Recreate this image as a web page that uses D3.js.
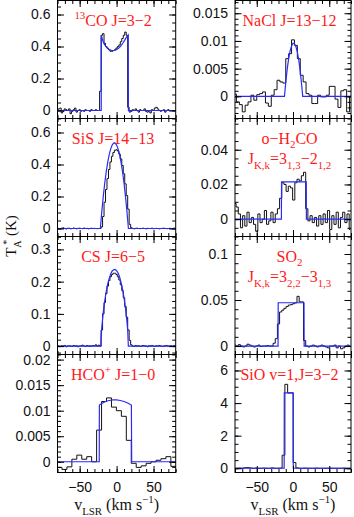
<!DOCTYPE html>
<html><head><meta charset="utf-8">
<script src="https://cdn.jsdelivr.net/npm/d3@7"></script>
<style>body{margin:0;background:#fff}svg{display:block}</style>
</head><body>
<script>
// ---------------- data ----------------
const velDomain = [-80, 80];
const xMajorTicks = [-50, 0, 50];
const xTickLabels = ["\u221250", "0", "50"];
const xMinorStep = 10;

// 13CO J=3-2
const co13Start = -80, co13Width = 2;
const co13Obs = [0.005,0.01,0.015,-0.015,-0.005,0.01,0.005,0.0,0.01,-0.02,
  -0.005,0.005,0.015,-0.01,0.0,0.005,-0.005,0.0,-0.005,0.005,
  0.0,0.0,-0.005,0.005,0.0,0.0,0.005,0.0,0.0,0.12,
  0.47,0.48,0.42,0.40,0.39,0.38,0.37,0.37,0.375,0.38,
  0.39,0.40,0.41,0.43,0.45,0.47,0.49,0.47,0.02,-0.01,
  -0.005,0.005,0.0,0.01,0.0,-0.01,0.005,0.0,0.0,0.01,
  -0.005,-0.01,0.0,-0.015,0.005,0.0,0.015,0.02,0.01,0.0,
  -0.005,0.0,0.005,-0.01,0.0,0.005,0.0,0.0,0.0,0.0,0.0];
const co13ModelV = [-80,-20.8,-20.6,-19,-17,-15,-13,-11,-9,-7,-5,-3,-1,1,3,5,7,9,11,13,15,15.8,16.0,80];
const co13ModelT = [0,0,0.47,0.44,0.418,0.403,0.392,0.384,0.379,0.376,0.375,0.376,0.379,0.384,0.391,0.40,0.412,0.425,0.44,0.455,0.468,0.472,0,0];
const co13YDomain = [-0.05, 0.6875];
const co13YTicks = [0, 0.2, 0.4, 0.6];
const co13YLabels = ["0", "0.2", "0.4", "0.6"];

// SiS J=14-13
const sisStart = -80, sisWidth = 2;
const sisObs = [0.003,0.0,-0.002,0.002,0.004,0.0,-0.003,0.001,0.002,-0.002,
  0.0,0.003,0.0,-0.002,0.001,0.002,0.0,-0.001,0.003,0.0,
  0.001,-0.002,0.0,0.002,0.0,0.001,0.0,-0.001,0.0,
  0.0,0.01,0.075,0.164,0.244,0.312,0.369,0.416,0.451,0.475,0.489,
  0.492,0.484,0.465,0.435,0.394,0.342,0.279,0.206,0.121,0.026,0.005,
  0.0,-0.002,0.001,0.002,0.0,-0.001,0.0,0.002,0.0,-0.002,
  0.001,0.0,0.0,0.002,-0.001,0.0,0.001,0.0,-0.002,0.0,
  0.001,0.002,0.0,-0.001,0.0,0.001,0.0,0.0,0.002,0.0];
const sisModelV = [-80,-22,-20,-18,-16,-14,-12,-10,-8,-6,-4,-3,-2,0,2,4,6,8,10,12,14,16,80];
const sisModelT = [0,0,0.107,0.202,0.285,0.356,0.415,0.462,0.498,0.522,0.534,0.535,0.534,0.522,0.498,0.462,0.415,0.356,0.285,0.202,0.107,0,0];
const sisYDomain = [-0.05, 0.6875];
const sisYTicks = [0, 0.2, 0.4, 0.6];
const sisYLabels = ["0", "0.2", "0.4", "0.6"];

// CS J=6-5
const csStart = -80, csWidth = 2;
const csObs = [0.002,0.0,-0.001,0.001,0.0,0.002,-0.002,0.0,0.001,0.0,
  -0.001,0.002,0.0,0.001,-0.002,0.0,0.001,0.003,0.0,-0.001,
  0.002,0.0,0.001,0.0,0.002,0.001,0.004,0.0,0.003,
  0.0,0.05,0.10,0.135,0.163,0.186,0.203,0.215,0.222,0.226,0.226,
  0.222,0.215,0.205,0.19,0.172,0.15,0.123,0.09,0.05,0.018,0.004,
  0.0,-0.001,0.002,0.0,0.001,-0.001,0.0,0.002,0.001,0.0,
  -0.002,0.001,0.0,0.002,0.0,-0.001,0.001,0.0,0.002,0.0,
  -0.001,0.0,0.001,0.002,0.0,0.0,0.001,-0.001,0.002,0.0];
const csModelV = [-80,-21.3,-21,-20,-18,-16,-14,-12,-10,-8,-6,-4,-2,0,2,4,6,8,10,12,14,15,15.9,80];
const csModelT = [0,0,0.025,0.06,0.106,0.141,0.170,0.193,0.21,0.224,0.233,0.237,0.238,0.234,0.227,0.215,0.198,0.177,0.151,0.118,0.076,0.05,0,0];
const csYDomain = [-0.026, 0.340];
const csYTicks = [0, 0.1, 0.2, 0.3];
const csYLabels = ["0", "0.1", "0.2", "0.3"];

// HCO+ J=1-0
const hcoStart = -84.0, hcoWidth = 6.7;
const hcoObs = [-0.001,-0.0011,-0.0015,-0.001,0.0005,0.0013,0.0005,0.001,0.0,0.0062,
  0.0118,0.0125,0.0107,0.0100,0.0089,0.0042,-0.0003,-0.0011,-0.0008,-0.0003,
  0.0,0.0003,0.0006,0.0010,-0.0009,-0.0009];
const hcoModelV = [-80,-23.5,-23.3,-20,-15,-10,-5,0,5,10,15,20,20.4,80];
const hcoModelT = [0,0,0.0111,0.0114,0.0118,0.0120,0.0121,0.0121,0.0120,0.0118,0.0115,0.0111,0,0];
const hcoYDomain = [-0.0021, 0.0210];
const hcoYTicks = [0, 0.005, 0.01, 0.015, 0.02];
const hcoYLabels = ["0", "0.005", "0.01", "0.015", "0.02"];

// NaCl J=13-12
const naclStart = -80, naclWidth = 4;
const naclObs = [0.0004,-0.001,-0.0015,-0.0028,-0.0016,-0.001,0.0002,-0.0007,0.0003,0.0005,
  0.0008,-0.0012,-0.0018,0.0002,0.0012,0.0029,0.0026,0.0024,0.0068,0.0077,
  0.0102,0.0092,0.0068,0.0038,0.0026,0.0005,0.0002,-0.0013,-0.0013,0.0002,
  -0.0001,-0.0001,0.0002,0.0018,0.0018,-0.0005,-0.002,0.001,0.0012,-0.0028,0.0];
const naclModelV = [-80,-11.8,-10,-8,-6,-4,-2,0,2,4,6,8,10,12,13.4,80];
const naclModelT = [0,0,0.0025,0.0049,0.0068,0.0082,0.0091,0.0096,0.0095,0.009,0.008,0.0065,0.0045,0.002,0,0];
const naclYDomain = [-0.004, 0.0173];
const naclYTicks = [0, 0.005, 0.01, 0.015];
const naclYLabels = ["0", "0.005", "0.01", "0.015"];

// o-H2CO 3(1,3)-2(1,2)
const h2coStart = -80, h2coWidth = 3;
const h2coObs = [0.009,0.007,0.003,-0.005,0.002,-0.004,0.004,-0.002,0.001,-0.003,
  -0.007,0.003,-0.002,0.0,0.005,-0.003,-0.001,0.004,-0.002,0.003,
  0.006,0.012,0.021,0.020,0.016,0.019,0.018,0.011,0.021,0.023,
  0.022,0.025,0.027,0.006,-0.001,0.002,-0.002,0.001,-0.004,0.002,
  -0.003,0.003,-0.002,0.005,-0.006,0.002,-0.003,0.004,-0.005,0.001,
  0.004,-0.002,0.003,-0.006];
const h2coModelV = [-80,-16,-15.8,18.3,18.5,80];
const h2coModelT = [0,0,0.0215,0.0215,0,0];
const h2coYDomain = [-0.010, 0.058];
const h2coYTicks = [0, 0.02, 0.04];
const h2coYLabels = ["0", "0.02", "0.04"];

// SO2 3(2,2)-3(1,3)
const so2Start = -80, so2Width = 3;
const so2Obs = [0.001,0.0,0.0015,0.0,-0.001,0.0,0.002,0.001,0.0,-0.001,
  0.0,0.001,-0.0005,0.0,0.0,0.0005,0.0,0.0,0.003,
  0.008,0.024,0.037,0.039,0.041,0.043,0.0445,0.045,0.046,0.047,0.054,0.048,0.048,0.006,0.0,-0.001,
  0.0,0.001,0.0,-0.001,0.0,0.001,0.0,-0.001,-0.002,0.0,
  0.0,0.001,-0.002,0.0,-0.003,-0.002,0.0,0.001,0.0];
const so2ModelV = [-80,-20.6,-20.4,15.2,15.4,80];
const so2ModelT = [0,0,0.047,0.047,0,0];
const so2YDomain = [-0.0092, 0.119];
const so2YTicks = [0, 0.05, 0.1];
const so2YLabels = ["0", "0.05", "0.1"];

// SiO v=1 J=3-2
const sioStart = -81.5, sioWidth = 3.8;
const sioObs = [0.02,0.0,0.01,0.0,0.03,0.04,0.02,0.0,0.01,0.0,
  0.0,0.01,0.0,0.0,0.02,0.0,0.0,0.01,
  0.8,5.15,4.62,4.62,0.35,
  0.02,0.0,0.0,0.01,0.0,0.0,0.0,0.01,0.0,0.0,
  0.0,0.0,0.01,0.0,0.0,0.0,0.0,0.01,0.0,0.0,0.0];
const sioModelV = [-80,-12.2,-12.0,0.2,0.4,80];
const sioModelT = [0,0,4.62,4.62,0,0];
const sioYDomain = [-0.26, 6.98];
const sioYTicks = [0, 2, 4, 6];
const sioYLabels = ["0", "2", "4", "6"];

// line labels: [text, kind]
const co13Label = [[["13","sup"],["CO J=3\u22122","n"]]];
const sisLabel = [[["SiS J=14\u221213","n"]]];
const csLabel = [[["CS J=6\u22125","n"]]];
const hcoLabel = [[["HCO","n"],["+","sup"],[" J=1\u22120","n"]]];
const naclLabel = [[["NaCl J=13\u221212","n"]]];
const h2coLabel = [[["o\u2212H","n"],["2","sub"],["CO","n"]],
  [["J","n"],["K,k","sub"],["=3","n"],["1,3","sub"],["\u22122","n"],["1,2","sub"]]];
const so2Label = [[["SO","n"],["2","sub"]],
  [["J","n"],["K,k","sub"],["=3","n"],["2,2","sub"],["\u22123","n"],["1,3","sub"]]];
const sioLabel = [[["SiO v=1,J=3\u22122","n"]]];

const yTitle = [["T","n"],["A","sub"],["*","supback"],[" (K)","n"]];
const xTitle = [["v","n"],["LSR","sub"],[" (km s","n"],["\u22121","sup"],[")","n"]];

const panels = [
  {col:0,row:0,start:co13Start,width:co13Width,obs:co13Obs,mv:co13ModelV,mt:co13ModelT,yd:co13YDomain,yt:co13YTicks,yl:co13YLabels,ym:0.05,label:co13Label},
  {col:0,row:1,start:sisStart,width:sisWidth,obs:sisObs,mv:sisModelV,mt:sisModelT,yd:sisYDomain,yt:sisYTicks,yl:sisYLabels,ym:0.05,label:sisLabel},
  {col:0,row:2,start:csStart,width:csWidth,obs:csObs,mv:csModelV,mt:csModelT,yd:csYDomain,yt:csYTicks,yl:csYLabels,ym:0.02,label:csLabel},
  {col:0,row:3,start:hcoStart,width:hcoWidth,obs:hcoObs,mv:hcoModelV,mt:hcoModelT,yd:hcoYDomain,yt:hcoYTicks,yl:hcoYLabels,ym:0.001,label:hcoLabel},
  {col:1,row:0,start:naclStart,width:naclWidth,obs:naclObs,mv:naclModelV,mt:naclModelT,yd:naclYDomain,yt:naclYTicks,yl:naclYLabels,ym:0.001,label:naclLabel},
  {col:1,row:1,start:h2coStart,width:h2coWidth,obs:h2coObs,mv:h2coModelV,mt:h2coModelT,yd:h2coYDomain,yt:h2coYTicks,yl:h2coYLabels,ym:0.005,label:h2coLabel},
  {col:1,row:2,start:so2Start,width:so2Width,obs:so2Obs,mv:so2ModelV,mt:so2ModelT,yd:so2YDomain,yt:so2YTicks,yl:so2YLabels,ym:0.01,label:so2Label},
  {col:1,row:3,start:sioStart,width:sioWidth,obs:sioObs,mv:sioModelV,mt:sioModelT,yd:sioYDomain,yt:sioYTicks,yl:sioYLabels,ym:0.5,label:sioLabel}
];

// ---------------- drawing ----------------
const W = 354, H = 517;
const colX = [[57.5, 175.7], [235, 351]];
const rowY = [0.5, 118.5, 236.5, 354.5, 472.5];
const serif = "'Liberation Serif','Times New Roman',serif";
const sans = "'Liberation Sans',Arial,Helvetica,sans-serif";
const BLUE = "#2a2aff", RED = "#ff1a1a";

const svg = d3.select("body").append("svg").attr("width", W).attr("height", H);

function rich(textSel, pieces, size) {
  let shift = 0;
  pieces.forEach(([txt, kind]) => {
    let target = 0;
    if (kind === "sub") target = size * 0.3;
    if (kind === "sup" || kind === "supback") target = -size * 0.42;
    const ts = textSel.append("tspan").text(txt).attr("dy", target - shift);
    if (kind !== "n") ts.attr("font-size", size * 0.68);
    if (kind === "supback") ts.attr("dx", -size * 0.3);
    shift = target;
  });
}

function minorValues(domain, step) {
  const lo = Math.ceil(domain[0] / step - 1e-9), hi = Math.floor(domain[1] / step + 1e-9);
  return d3.range(lo, hi + 1).map(k => +(k * step).toFixed(6));
}

panels.forEach((p, i) => {
  const [x0, x1] = colX[p.col];
  const y0 = rowY[p.row], y1 = rowY[p.row + 1];
  const x = d3.scaleLinear().domain(velDomain).range([x0, x1]);
  const y = d3.scaleLinear().domain(p.yd).range([y1, y0]);
  const g = svg.append("g");

  svg.append("clipPath").attr("id", "clip" + i).append("rect")
    .attr("x", x0).attr("y", y0).attr("width", x1 - x0).attr("height", y1 - y0);

  const obsPts = p.obs.map((t, k) => [p.start + k * p.width, t]);
  g.append("path").datum(obsPts).attr("clip-path", `url(#clip${i})`)
    .attr("fill", "none").attr("stroke", "#111").attr("stroke-width", 1)
    .attr("d", d3.line().x(d => x(d[0])).y(d => y(d[1])).curve(d3.curveStep));

  const modPts = p.mv.map((v, k) => [v, p.mt[k]]);
  g.append("path").datum(modPts).attr("clip-path", `url(#clip${i})`)
    .attr("fill", "none").attr("stroke", BLUE).attr("stroke-width", 1.2)
    .attr("d", d3.line().x(d => x(d[0])).y(d => y(d[1])));

  const yMinor = minorValues(p.yd, p.ym);
  const xMinor = minorValues(velDomain, xMinorStep);
  const style = s => { s.select(".domain").remove(); s.selectAll("line").attr("stroke", "#000"); };

  g.append("g").attr("transform", `translate(${x0},0)`)
    .call(d3.axisLeft(y).tickValues(yMinor).tickSize(-3.5).tickFormat("")).call(style);
  g.append("g").attr("transform", `translate(${x1},0)`)
    .call(d3.axisRight(y).tickValues(yMinor).tickSize(-3.5).tickFormat("")).call(style);
  g.append("g").attr("transform", `translate(${x1},0)`)
    .call(d3.axisRight(y).tickValues(p.yt).tickSize(-6.5).tickFormat("")).call(style);
  const yl = g.append("g").attr("transform", `translate(${x0},0)`)
    .call(d3.axisLeft(y).tickValues(p.yt).tickSizeInner(-6.5).tickSizeOuter(0).tickPadding(7)
      .tickFormat((d, k) => p.yl[k])).call(style);
  yl.selectAll("text").attr("font-family", sans).attr("font-size", 14).attr("fill", "#111");

  g.append("g").attr("transform", `translate(0,${y0})`)
    .call(d3.axisTop(x).tickValues(xMinor).tickSize(-3.5).tickFormat("")).call(style);
  g.append("g").attr("transform", `translate(0,${y0})`)
    .call(d3.axisTop(x).tickValues(xMajorTicks).tickSize(-6.5).tickFormat("")).call(style);
  g.append("g").attr("transform", `translate(0,${y1})`)
    .call(d3.axisBottom(x).tickValues(xMinor).tickSize(-3.5).tickFormat("")).call(style);
  const xb = g.append("g").attr("transform", `translate(0,${y1})`)
    .call(d3.axisBottom(x).tickValues(xMajorTicks).tickSizeInner(-6.5).tickSizeOuter(0).tickPadding(9.5)
      .tickFormat((d, k) => p.row === 3 ? xTickLabels[k] : "")).call(style);
  xb.selectAll("text").attr("font-family", sans).attr("font-size", 14).attr("fill", "#111");

  g.append("rect").attr("x", x0).attr("y", y0).attr("width", x1 - x0).attr("height", y1 - y0)
    .attr("fill", "none").attr("stroke", "#000").attr("stroke-width", 1);

  const cx = (x0 + x1) / 2 - 3.5;
  p.label.forEach((line, li) => {
    const t = g.append("text").attr("x", cx).attr("y", y0 + 25 + li * 20.5)
      .attr("text-anchor", "middle").attr("font-family", serif).attr("font-size", 16).attr("fill", RED);
    rich(t, line, 16);
  });

  if (p.row === 3) {
    const t = g.append("text").attr("x", (x0 + x1) / 2).attr("y", 510)
      .attr("text-anchor", "middle").attr("font-family", serif).attr("font-size", 16).attr("fill", "#111");
    rich(t, xTitle, 16);
  }
});

const yt = svg.append("text").attr("transform", "translate(16,236) rotate(-90)")
  .attr("text-anchor", "middle").attr("font-family", serif).attr("font-size", 15).attr("fill", "#111");
rich(yt, yTitle, 15);
</script>
</body></html>
